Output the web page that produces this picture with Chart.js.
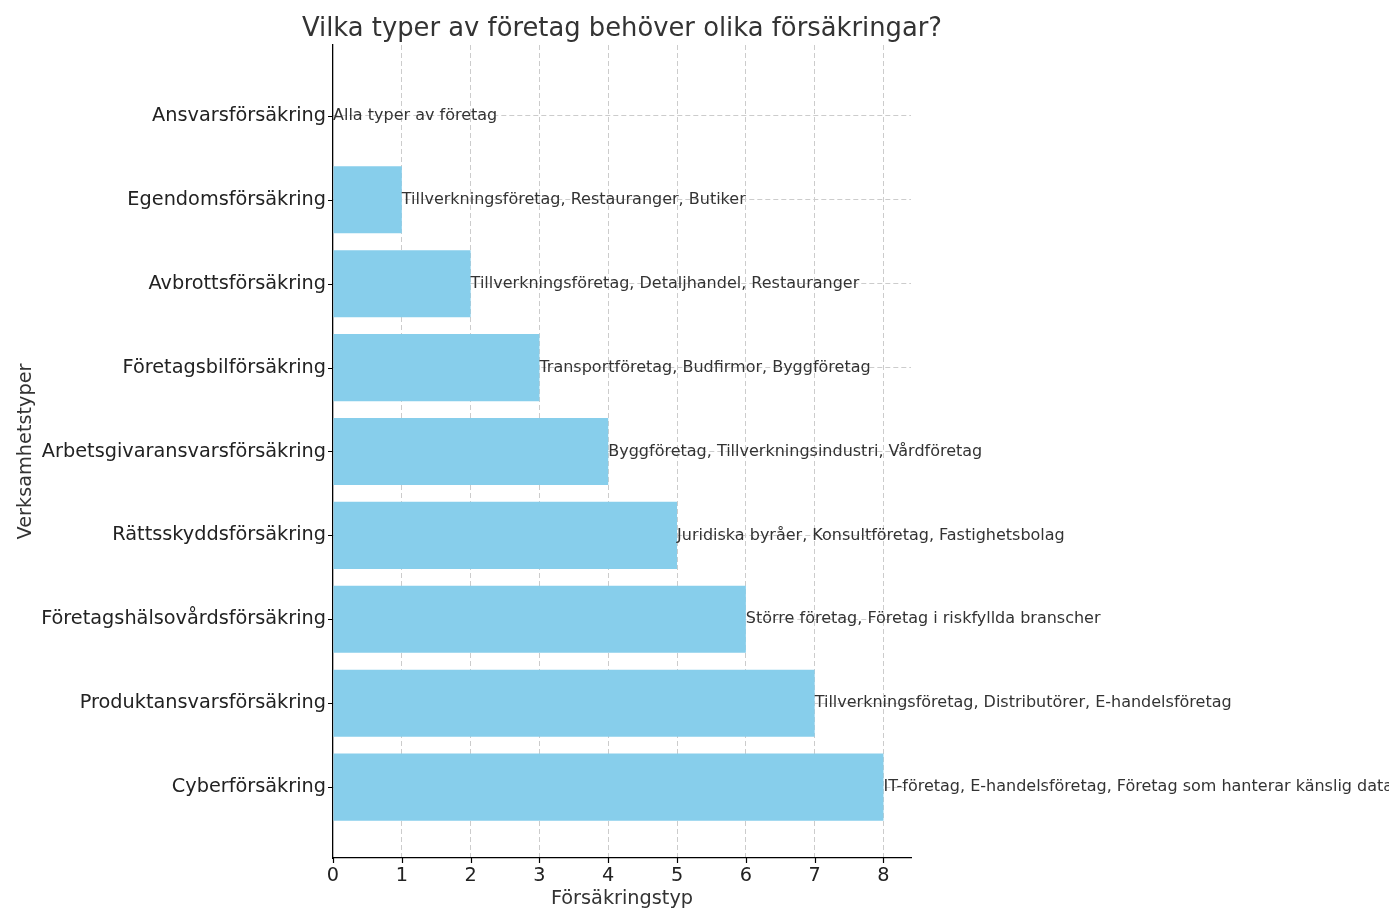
<!DOCTYPE html>
<html>
<head>
<meta charset="utf-8">
<script src="https://cdn.jsdelivr.net/npm/chart.js@4.4.0/dist/chart.umd.min.js"></script>
<style>
  html, body { margin: 0; padding: 0; background: #fff; }
  #wrap { width: 1389px; height: 924px; }
</style>
</head>
<body>
<div id="wrap"><canvas id="chart"></canvas></div>
<script>
// Insurance types, top to bottom
const categories = [
    'Ansvarsförsäkring',
    'Egendomsförsäkring',
    'Avbrottsförsäkring',
    'Företagsbilförsäkring',
    'Arbetsgivaransvarsförsäkring',
    'Rättsskyddsförsäkring',
    'Företagshälsovårdsförsäkring',
    'Produktansvarsförsäkring',
    'Cyberförsäkring'
];

const values = [0, 1, 2, 3, 4, 5, 6, 7, 8];

// Text written at the end of each bar
const descriptions = [
    'Alla typer av företag',
    'Tillverkningsföretag, Restauranger, Butiker',
    'Tillverkningsföretag, Detaljhandel, Restauranger',
    'Transportföretag, Budfirmor, Byggföretag',
    'Byggföretag, Tillverkningsindustri, Vårdföretag',
    'Juridiska byråer, Konsultföretag, Fastighetsbolag',
    'Större företag, Företag i riskfyllda branscher',
    'Tillverkningsföretag, Distributörer, E-handelsföretag',
    'IT-företag, E-handelsföretag, Företag som hanterar känslig data'
];

const xTicks = [0, 1, 2, 3, 4, 5, 6, 7, 8];

const TITLE = 'Vilka typer av företag behöver olika försäkringar?';
const FONT = "'DejaVu Sans', sans-serif";
const TEXT = '#333';
const GRID = '#cccccc';

// Title (wider than the plot, so the built-in one would squeeze it),
// small black tick marks and the bar annotations
const extras = {
    id: 'extras',
    afterDraw(chart) {
        const ctx = chart.ctx;
        const xs = chart.scales.x, ys = chart.scales.y;
        const area = chart.chartArea;
        ctx.save();
        ctx.strokeStyle = '#000';
        ctx.lineWidth = 1.2;
        ctx.beginPath();
        xTicks.forEach(t => {
            const px = Math.round(xs.getPixelForValue(t)) + 0.5;
            ctx.moveTo(px, area.bottom);
            ctx.lineTo(px, area.bottom + 5);
        });
        categories.forEach((c, i) => {
            const py = Math.round(ys.getPixelForValue(i)) + 0.5;
            ctx.moveTo(area.left, py);
            ctx.lineTo(area.left - 5, py);
        });
        ctx.stroke();

        ctx.fillStyle = TEXT;
        ctx.textBaseline = 'middle';
        ctx.textAlign = 'center';
        ctx.font = '25.8px ' + FONT;
        ctx.fillText(TITLE, (area.left + area.right) / 2, 29);

        ctx.font = '16px ' + FONT;
        ctx.textAlign = 'left';
        descriptions.forEach((d, i) => {
            ctx.fillText(d, xs.getPixelForValue(values[i]), ys.getPixelForValue(i));
        });
        ctx.restore();
    }
};

new Chart(document.getElementById('chart'), {
    type: 'bar',
    data: {
        datasets: [{
            data: values.map((v, i) => ({ x: v, y: i })),
            backgroundColor: '#87CEEB',
            borderWidth: 0,
            barPercentage: 1,
            categoryPercentage: 0.8
        }]
    },
    options: {
        indexAxis: 'y',
        responsive: true,
        maintainAspectRatio: false,
        devicePixelRatio: 1,
        animation: false,
        layout: { padding: { left: 0, right: 478, top: 45, bottom: 0 } },
        plugins: {
            legend: { display: false },
            tooltip: { enabled: false },
            title: { display: false }
        },
        scales: {
            x: {
                type: 'linear',
                position: 'bottom',
                min: 0,
                max: 8.4,
                z: 1,
                afterFit: s => { s.height = 66; },
                ticks: {
                    stepSize: 1,
                    includeBounds: false,
                    color: '#222',
                    padding: 6,
                    maxRotation: 0,
                    font: { family: FONT, size: 19.3 }
                },
                grid: {
                    color: ctx => ctx.tick && ctx.tick.value === 0 ? 'rgba(0,0,0,0)' : GRID,
                    lineWidth: 1,
                    drawTicks: false
                },
                border: { display: true, color: '#000', width: 1.3, dash: [5, 3] },
                title: {
                    display: true,
                    text: 'Försäkringstyp',
                    color: TEXT,
                    font: { family: FONT, size: 19.3 },
                    padding: { top: 0, bottom: 13 }
                }
            },
            y: {
                type: 'linear',
                position: 'left',
                reverse: true,
                offset: false,
                min: -0.845,
                max: 8.845,
                z: 1,
                afterFit: s => { s.width = 333; },
                afterBuildTicks: s => { s.ticks = categories.map((c, i) => ({ value: i })); },
                ticks: {
                    autoSkip: false,
                    color: '#222',
                    padding: 7,
                    font: { family: FONT, size: 19.3 },
                    callback: v => categories[v]
                },
                grid: {
                    offset: false,
                    color: GRID,
                    lineWidth: 1,
                    drawTicks: false
                },
                border: { display: true, color: '#000', width: 1.3, dash: [5, 3] },
                title: {
                    display: true,
                    text: 'Verksamhetstyper',
                    color: TEXT,
                    font: { family: FONT, size: 19.3 },
                    padding: { top: 14, bottom: 0 }
                }
            }
        }
    },
    plugins: [extras]
});
</script>
</body>
</html>
